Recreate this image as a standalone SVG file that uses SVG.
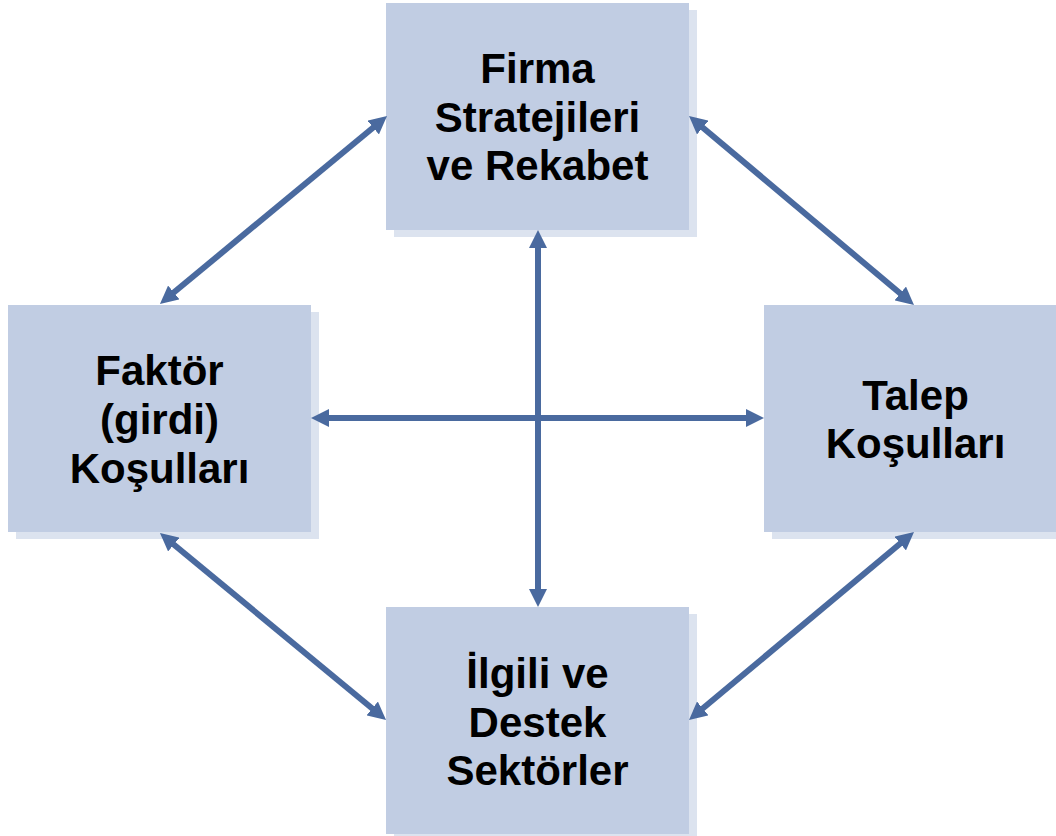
<svg xmlns="http://www.w3.org/2000/svg" width="1056" height="836" viewBox="0 0 1056 836">
<style>
.box{fill:#C1CDE3}
.shadow{fill:#DCE3EF}
.lbl{font-family:"Liberation Sans",Arial,sans-serif;font-weight:bold;font-size:42px;fill:#000;text-anchor:middle}
.conn{stroke:#4A6A9F;stroke-width:6;fill:none;marker-start:url(#ah);marker-end:url(#ah)}
</style>
<defs>
<marker id="ah" markerUnits="userSpaceOnUse" viewBox="0 0 18 18" markerWidth="18" markerHeight="18" refX="6" refY="9" orient="auto-start-reverse">
<path d="M0,0 L18,9 L0,18 z" fill="#4A6A9F"/>
</marker>
</defs>
<rect width="1056" height="836" fill="#fff"/>
<g id="node-firma">
<rect class="shadow" x="394" y="10" width="303" height="227"/>
<rect class="box" x="386" y="3" width="303" height="227"/>
<text class="lbl" x="537.5" y="83">Firma</text>
<text class="lbl" x="537.5" y="131.5">Stratejileri</text>
<text class="lbl" x="537.5" y="180">ve Rekabet</text>
</g>
<g id="node-faktor">
<rect class="shadow" x="16" y="312" width="303" height="227"/>
<rect class="box" x="8" y="305" width="303" height="227"/>
<text class="lbl" x="159.5" y="385">Faktör</text>
<text class="lbl" x="159.5" y="434">(girdi)</text>
<text class="lbl" x="159.5" y="483">Koşulları</text>
</g>
<g id="node-talep">
<rect class="shadow" x="772" y="312" width="303" height="227"/>
<rect class="box" x="764" y="305" width="303" height="227"/>
<text class="lbl" x="915.5" y="410">Talep</text>
<text class="lbl" x="915.5" y="458">Koşulları</text>
</g>
<g id="node-ilgili">
<rect class="shadow" x="394" y="614" width="303" height="227"/>
<rect class="box" x="386" y="607" width="303" height="227"/>
<text class="lbl" x="537.5" y="688">İlgili ve</text>
<text class="lbl" x="537.5" y="737">Destek</text>
<text class="lbl" x="537.5" y="785">Sektörler</text>
</g>
<g id="connectors">
<line class="conn" x1="169.2" y1="296.3" x2="377.8" y2="123.7"/>
<line class="conn" x1="698.2" y1="123.7" x2="904.8" y2="297.3"/>
<line class="conn" x1="169.2" y1="540.7" x2="376.8" y2="712.3"/>
<line class="conn" x1="904.8" y1="539.7" x2="698.2" y2="712.3"/>
<line class="conn" x1="538" y1="242" x2="538" y2="595"/>
<line class="conn" x1="323" y1="418" x2="752" y2="418"/>
</g>
</svg>
